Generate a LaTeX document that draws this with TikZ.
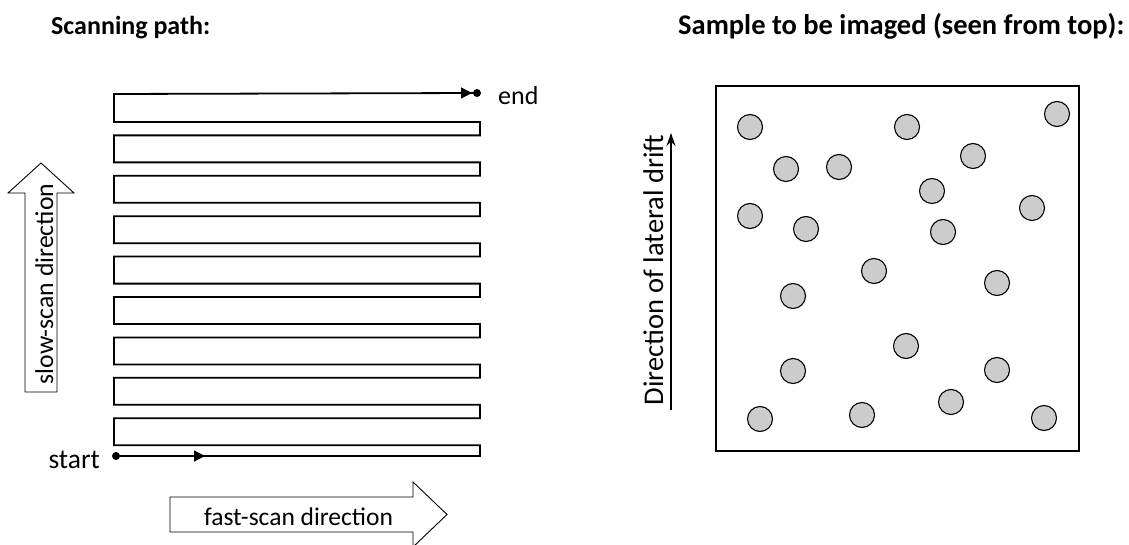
\documentclass[tikz,border=0pt]{standalone}
\usepackage{fontspec}
\setmainfont{Carlito}
\usetikzlibrary{arrows.meta}
\newcommand{\fsz}[1]{\fontsize{#1}{#1}\selectfont}
\begin{document}
\begin{tikzpicture}[x=1pt,y=-1pt,
  title/.style={anchor=base west, inner sep=0pt},
  label/.style={inner sep=0pt},
  scanline/.style={line width=1.8pt, line join=miter},
  bigarrow/.style={draw, line width=0.9pt, fill=white},
  particle/.style={circle, draw, line width=1.1pt, fill=black!20, minimum size=25pt, inner sep=0pt},
  enddot/.style={circle, fill=black, minimum size=8pt, inner sep=0pt}]
\useasboundingbox (0,0) rectangle (1129,545);

% headings
\node[title, font=\fsz{26}\bfseries] (h1) at (51,35) {Scanning path:};
\node[title, font=\fsz{28.5}\bfseries] (h2) at (678,35) {Sample to be imaged (seen from top):};

% raster scan path: nine return loops, bar height 27, pitch 40.4
\coordinate (S) at (116,456);
\coordinate (E) at (477,93);
\draw[scanline] (S) -- (480,456) -- (480,445.2)
  foreach \k in {8,...,1} {
    -- (114,{95+40.4*\k+27}) -- (114,{95+40.4*\k}) -- (480,{95+40.4*\k}) -- (480,{95+40.4*(\k-1)+27})
  }
  -- (114,122) -- (114,94) -- (E);
\node[enddot] (sdot) at (S) {};
\node[enddot] (edot) at (E) {};
\draw[-{Triangle[length=11pt,width=11pt]}, line width=1.2pt] (sdot) -- (205,456);
\draw[-{Triangle[length=11pt,width=11pt]}, line width=1.2pt] (440,93) -- (472,93);
\node[label, anchor=base west, font=\fsz{26}] (endlbl) at (498,105) {end};
\node[label, anchor=base east, font=\fsz{27.5}] (startlbl) at (100,468) {start};

% slow-scan arrow (outlined, pointing up)
\draw[bigarrow] (25,392) -- (57,392) -- (57,193) -- (74,193) -- (41,163) -- (8,193) -- (25,193) -- cycle;
\node[label, rotate=90, anchor=base, font=\fsz{25.7}] (slow) at (53,284) {slow-scan direction};

% fast-scan arrow (outlined, pointing right)
\draw[bigarrow] (170,497) -- (413,497) -- (413,482) -- (447,514.5) -- (413,547) -- (413,532) -- (170,532) -- cycle;
\node[label, anchor=base, font=\fsz{25.5}] (fast) at (298.5,525) {fast-scan direction};

% sample outline
\draw[line width=2.4pt] (716,86) rectangle (1079,451);

% drift direction
\draw[line width=1.4pt, -{Stealth[length=13pt,width=9pt]}] (671,410) -- (671,133);
\node[label, rotate=90, anchor=base, font=\fsz{28.5}] (drift) at (663,270) {Direction of lateral drift};

% particles
\foreach \x/\y [count=\i] in {750/127, 907/127, 1057/114, 786/169, 839/167, 973/156,
  932/191, 750/216, 806/229, 943/232, 1032/208, 874/271, 793/296, 997/283,
  906/346, 793/371, 997/370, 951/402, 760/419, 862/415, 1044/418}
  \node[particle] (p\i) at (\x,\y) {};
\end{tikzpicture}
\end{document}
